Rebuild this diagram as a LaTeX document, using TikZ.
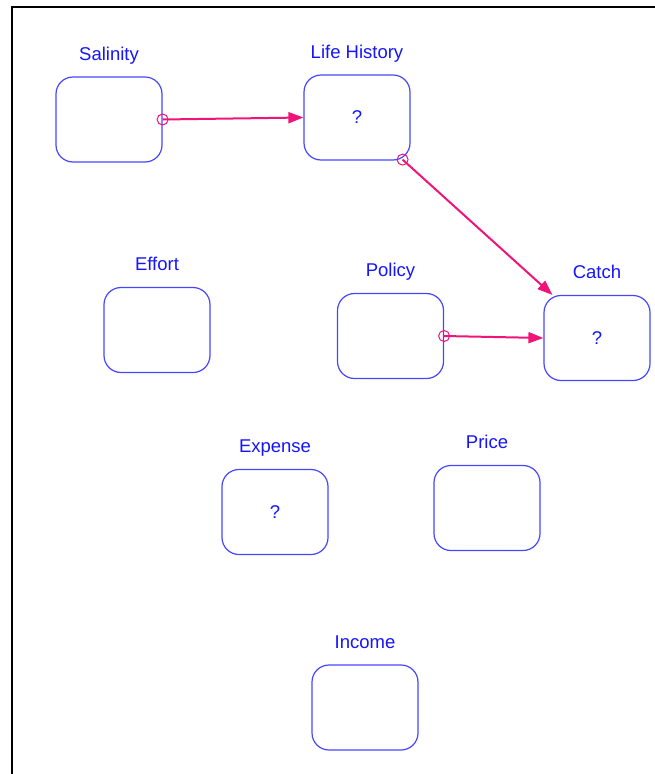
\documentclass[tikz,border=0pt]{standalone}
\usepackage{fontspec}
\setmainfont{Liberation Sans}
\usetikzlibrary{positioning,arrows.meta}
\definecolor{boxblue}{RGB}{70,70,255}
\definecolor{txtblue}{RGB}{20,20,255}
\definecolor{linkpink}{RGB}{240,20,120}
\begin{document}
\begin{tikzpicture}[x=1pt,y=-1pt,
    var/.style={draw=boxblue,line width=1.2pt,rectangle,rounded corners=17pt,
        minimum width=106pt,minimum height=85pt,inner sep=0pt,
        text=txtblue,font=\fontsize{18.5}{22}\selectfont},
    varname/.style={anchor=base,inner sep=0pt,text=txtblue,font=\fontsize{18.5}{22}\selectfont},
    link/.style={draw=linkpink,line width=2pt,-{Triangle[length=15pt,width=11pt]}},
    linkstart/.style={draw=linkpink,line width=1pt}]
    \useasboundingbox (0,0) rectangle (655,774);
    \draw[line width=2pt,black] (655,6.5) -- (11.5,6.5) -- (11.5,774);
    \node[var] (sal) at (109,119.5){};
    \node[var] (lh) at (357,117.5){?};
    \node[var] (eff) at (157,330){};
    \node[var] (pol) at (390.5,336){};
    \node[var] (catch) at (597,338){?};
    \node[var] (exp) at (275,512){?};
    \node[var] (price) at (487,508){};
    \node[var] (inc) at (365,707.5){};
    \node[varname] (salname) at ([yshift=15.5pt]sal.north){Salinity};
    \node[varname] (lhname) at ([yshift=15.5pt]lh.north){Life History};
    \node[varname] (effname) at ([yshift=16.5pt]eff.north){Effort};
    \node[varname] (polname) at ([yshift=16pt]pol.north){Policy};
    \node[varname] (catchname) at ([yshift=16pt]catch.north){Catch};
    \node[varname] (expname) at ([yshift=16pt]exp.north){Expense};
    \node[varname] (pricename) at ([yshift=16pt]price.north){Price};
    \node[varname] (incname) at ([yshift=16pt]inc.north){Income};
    \coordinate (lhout) at ([shift={(-8,-1)}]lh.south east);
    \coordinate (catchin) at ([shift={(9,0)}]catch.north west);
    \draw[link] (sal.east) -- (lh.west);
    \draw[link] (lhout) -- (catchin);
    \draw[link] (pol.east) -- (catch.west);
    \draw[linkstart] (sal.east) circle[radius=5.5];
    \draw[linkstart] (lhout) circle[radius=5.5];
    \draw[linkstart] (pol.east) circle[radius=5.5];
\end{tikzpicture}
\end{document}
